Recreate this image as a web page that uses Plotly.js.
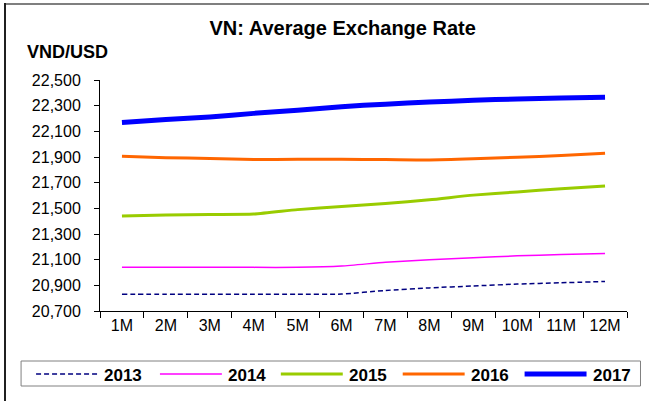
<!DOCTYPE html>
<html><head><meta charset="utf-8">
<script src="https://cdn.plot.ly/plotly-3.0.1.min.js"></script>
<style>
html,body{margin:0;padding:0;background:#fff;overflow:hidden;}
#wrap{position:relative;width:649px;height:401px;}
#chart{width:649px;height:401px;}
#frameTop{position:absolute;left:5px;top:3px;width:644px;height:2px;background:#7f7f7f;pointer-events:none;}
#frameLeft{position:absolute;left:4px;top:3px;width:2px;height:398px;background:#202020;pointer-events:none;}
</style>
</head><body><div id="wrap"><div id="chart"></div><div id="frameTop"></div><div id="frameLeft"></div></div>
<script>
const months = ["1M","2M","3M","4M","5M","6M","7M","8M","9M","10M","11M","12M"];
const y2013 = [20830,20830,20830,20830,20830,20832,20860,20880,20895,20910,20920,20930];
const y2014 = [21040,21040,21040,21040,21040,21050,21080,21100,21115,21130,21140,21148];
const y2015 = [21440,21448,21452,21455,21490,21515,21538,21567,21603,21628,21652,21675];
const y2016 = [21905,21895,21888,21880,21882,21882,21880,21877,21886,21898,21912,21930];
const y2017 = [22168,22192,22212,22240,22265,22292,22312,22328,22342,22352,22360,22366];
const yTicks = [20700,20900,21100,21300,21500,21700,21900,22100,22300,22500];
const names = ["2013","2014","2015","2016","2017"];

const styles = [
  {color:"#000080", width:1.5, dash:"5px,3px"},
  {color:"#ff00ff", width:1.5, dash:"solid"},
  {color:"#99cc00", width:3, dash:"solid"},
  {color:"#ff6600", width:3, dash:"solid"},
  {color:"#0000ff", width:5, dash:"solid"}
];
const series = [y2013,y2014,y2015,y2016,y2017];
const font = "Arial, 'Liberation Sans', sans-serif";

const traces = series.map((ys,i)=>({
  x: months, y: ys, name: names[i], type:"scatter", mode:"lines",
  line:{color:styles[i].color, width:styles[i].width, dash:styles[i].dash, shape:"spline", smoothing:0.6},
  showlegend:false, hoverinfo:"skip"
}));

// pixel -> paper helpers for decorations (manual legend)
const plotL = 100, plotW = 527.5, plotT = 80, plotH = 231;
const px = x => (x - plotL)/plotW;
const py = y => (plotT + plotH - y)/plotH;

const shapes = [
  {type:"rect", xref:"paper", yref:"paper", x0:px(21), x1:px(641), y0:py(361), y1:py(386), line:{color:"#808080", width:1}, fillcolor:"rgba(0,0,0,0)"}
];
const annotations = [];
const legX = [36, 160, 281, 403, 525];
names.forEach((n,i)=>{
  shapes.push({type:"line", xref:"paper", yref:"paper", x0:px(legX[i]), x1:px(legX[i]+62), y0:py(374), y1:py(374),
    line:{color:styles[i].color, width:styles[i].width, dash:styles[i].dash}});
  annotations.push({xref:"paper", yref:"paper", x:px(legX[i]+66), y:py(375), xanchor:"left", yanchor:"middle",
    text:"<b>"+n+"</b>", showarrow:false, font:{family:font, size:17, color:"#000"}});
});
annotations.push({xref:"paper", yref:"paper", x:px(25), y:py(52), xanchor:"left", yanchor:"middle",
  text:"<b>VND/USD</b>", showarrow:false, font:{family:font, size:18, color:"#000"}});

const layout = {
  width:649, height:401,
  margin:{l:100, r:21.5, t:80, b:90},
  paper_bgcolor:"#fff", plot_bgcolor:"#fff",
  title:{text:"<b>VN: Average Exchange Rate</b>", x:0.528, xanchor:"center", y:0.93, yanchor:"middle", font:{family:font, size:20, color:"#000"}},
  xaxis:{type:"category", categoryarray:months, showline:true, linecolor:"#000", linewidth:1,
    ticks:"outside", ticklen:6, tickcolor:"#000", tickson:"boundaries", showgrid:false, zeroline:false,
    tickfont:{family:font, size:16, color:"#000"}, range:[-0.5,11.5], fixedrange:true},
  yaxis:{range:[20700,22500], tickvals:yTicks, ticktext:yTicks.map(v=>v.toLocaleString("en-US")),
    showline:true, linecolor:"#000", linewidth:1, ticks:"outside", ticklen:5, tickcolor:"#000",
    ticklabelstandoff:10,
    showgrid:false, zeroline:false, tickfont:{family:font, size:16, color:"#000"}, fixedrange:true},
  shapes:shapes, annotations:annotations, showlegend:false
};
Plotly.newPlot("chart", traces, layout, {staticPlot:true, displayModeBar:false});
</script></body></html>
